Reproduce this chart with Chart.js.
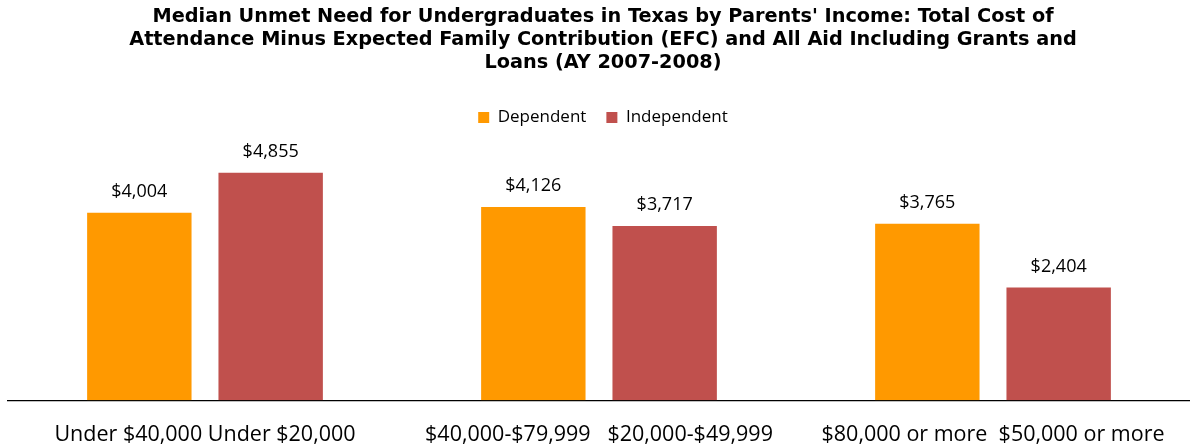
<!DOCTYPE html>
<html>
<head>
<meta charset="utf-8">
<script src="https://cdn.jsdelivr.net/npm/chart.js@4/dist/chart.umd.min.js"></script>
<style>
  html, body { margin: 0; padding: 0; background: #fff; }
  #wrap { width: 1190px; height: 446px; }
</style>
</head>
<body>
<div id="wrap"><canvas id="chart" width="1190" height="446"></canvas></div>
<script>
  const titleLines = [
    "Median Unmet Need for Undergraduates in Texas by Parents' Income: Total Cost of",
    "Attendance Minus Expected Family Contribution (EFC) and All Aid Including Grants and",
    "Loans (AY 2007-2008)"
  ];
  const categories = [
    "Under $40,000 Under $20,000",
    "$40,000-$79,999   $20,000-$49,999",
    "$80,000 or more  $50,000 or more"
  ];
  const dependentValues = [4004, 4126, 3765];
  const independentValues = [4855, 3717, 2404];

  const ORANGE = '#FF9900';
  const RED = '#C0504D';

  // pick a title size so the first line is about as wide as in the original
  function fitSize(text, font, target) {
    const c = document.createElement('canvas').getContext('2d');
    c.font = 'bold 100px ' + font;
    return Math.round(1000 * target / c.measureText(text).width) / 10;
  }
  const titleFont = '"DejaVu Sans", sans-serif';
  const titleSize = Math.min(20, fitSize(titleLines[0], titleFont, 900));

  const valueLabels = {
    id: 'valueLabels',
    afterDatasetsDraw(chart) {
      const ctx = chart.ctx;
      ctx.save();
      ctx.font = '18px "Open Sans", sans-serif';
      ctx.fillStyle = '#000';
      ctx.textAlign = 'center';
      ctx.textBaseline = 'middle';
      chart.data.datasets.forEach((ds, i) => {
        chart.getDatasetMeta(i).data.forEach((bar, j) => {
          ctx.fillText('$' + ds.data[j].toLocaleString('en-US'), bar.x, bar.y - 21);
        });
      });
      ctx.restore();
    }
  };

  new Chart(document.getElementById('chart'), {
    type: 'bar',
    data: {
      labels: categories,
      datasets: [
        { label: 'Dependent', data: dependentValues, backgroundColor: ORANGE,
          categoryPercentage: 0.6667, barPercentage: 0.795 },
        { label: 'Independent', data: independentValues, backgroundColor: RED,
          categoryPercentage: 0.6667, barPercentage: 0.795 }
      ]
    },
    options: {
      responsive: false,
      animation: false,
      layout: { padding: { left: 8, right: -8, top: 0, bottom: -16 } },
      scales: {
        x: {
          grid: { display: false },
          border: { display: true, color: '#000', width: 1.2 },
          ticks: {
            color: '#000',
            font: { family: '"Open Sans", sans-serif', size: 21.5 },
            padding: 14,
            maxRotation: 0,
            autoSkip: false
          }
        },
        y: { display: false, min: 0, max: 5641 }
      },
      plugins: {
        title: {
          display: true,
          text: titleLines,
          color: '#000',
          font: { family: titleFont, size: titleSize, weight: 'bold', lineHeight: 23 / titleSize },
          padding: { top: 5, bottom: 15 }
        },
        legend: {
          position: 'top',
          labels: {
            color: '#000',
            font: { family: '"Open Sans", sans-serif', size: 17 },
            boxWidth: 11,
            boxHeight: 11,
            padding: 20
          }
        },
        tooltip: { enabled: false }
      }
    },
    plugins: [valueLabels]
  });
</script>
</body>
</html>
